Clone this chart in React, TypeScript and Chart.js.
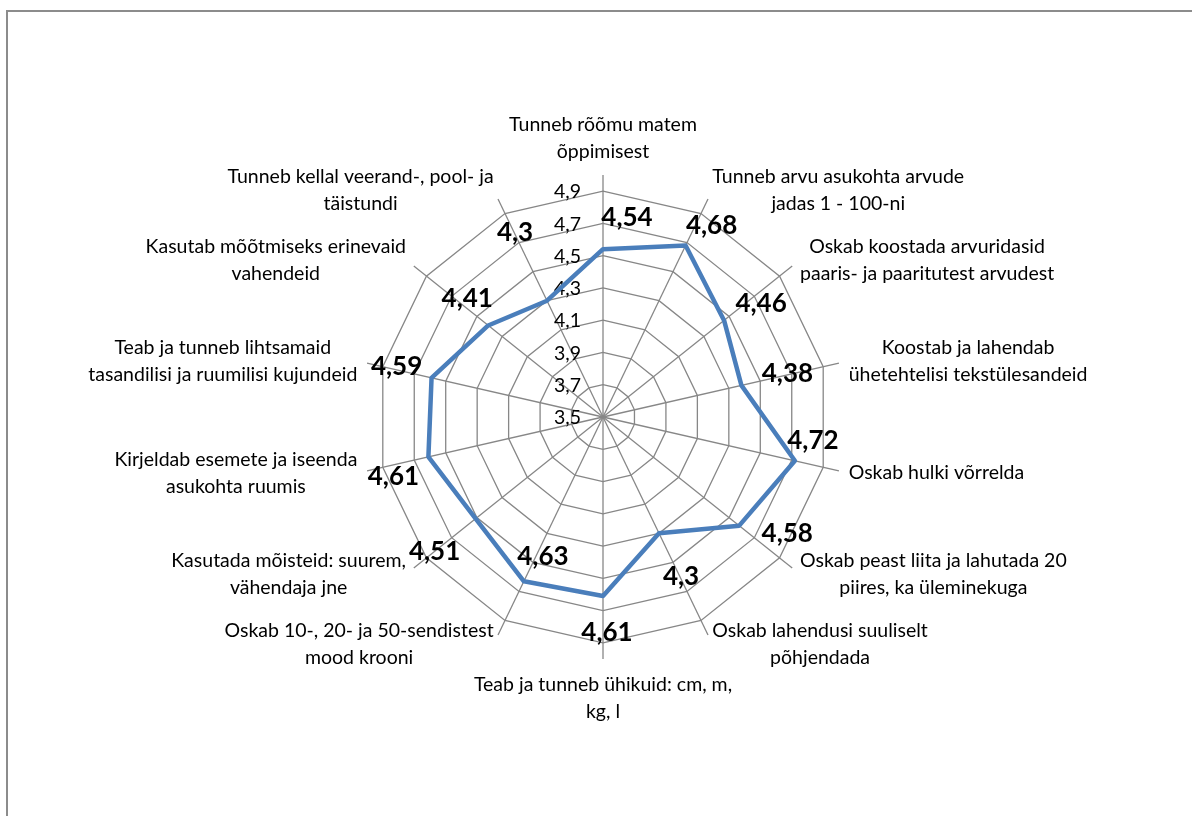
import React, { useEffect, useRef } from "react";
import { Chart, registerables } from "chart.js";

Chart.register(...registerables);

const categories: string[][] = [
  ["Tunneb rõõmu matem", "õppimisest"],
  ["Tunneb arvu asukohta arvude", "jadas 1 - 100-ni"],
  ["Oskab koostada arvuridasid", "paaris- ja paaritutest arvudest"],
  ["Koostab ja lahendab", "ühetehtelisi tekstülesandeid"],
  ["Oskab hulki võrrelda"],
  ["Oskab peast liita ja lahutada 20", "piires, ka üleminekuga"],
  ["Oskab lahendusi suuliselt", "põhjendada"],
  ["Teab ja tunneb ühikuid: cm, m,", "kg, l"],
  ["Oskab 10-, 20- ja 50-sendistest", "mood krooni"],
  ["Kasutada mõisteid: suurem,", "vähendaja jne"],
  ["Kirjeldab esemete ja iseenda", "asukohta ruumis"],
  ["Teab ja tunneb lihtsamaid", "tasandilisi ja ruumilisi kujundeid"],
  ["Kasutab mõõtmiseks erinevaid", "vahendeid"],
  ["Tunneb kellal veerand-, pool- ja", "täistundi"],
];

const values: number[] = [4.54, 4.68, 4.46, 4.38, 4.72, 4.58, 4.3, 4.61, 4.63, 4.51, 4.61, 4.59, 4.41, 4.3];

const tickValues: number[] = [3.5, 3.7, 3.9, 4.1, 4.3, 4.5, 4.7, 4.9];

// data label offsets (px) relative to each point — styling only
const labelOffsets: [number, number][] = [
  [24, -32], [26, -20], [37, -17], [46, -12], [18, -20], [48, 8], [22, 43],
  [4, 37], [19, -25], [-41, 33], [-35, 20], [-35, -11], [-21, -27], [-32, -68],
];

const FONT = "Lato, 'Open Sans', sans-serif";
const fmt = (v: number) => String(v).replace(".", ",");

const overlay = {
  id: "overlay",
  beforeDatasetsDraw(chart: any) {
    const s = chart.scales.r;
    const ctx = chart.ctx;
    ctx.save();
    ctx.font = `19.5px ${FONT}`;
    ctx.fillStyle = "#000";
    ctx.textAlign = "right";
    ctx.textBaseline = "middle";
    tickValues.forEach((v) => {
      const d = s.getDistanceFromCenterForValue(v);
      ctx.fillText(fmt(v), s.xCenter - 22, s.yCenter - d + 1);
    });
    ctx.restore();
  },
  afterDatasetsDraw(chart: any) {
    const s = chart.scales.r;
    const ctx = chart.ctx;
    ctx.save();
    ctx.fillStyle = "#000";
    ctx.font = `19.5px ${FONT}`;
    ctx.textAlign = "center";
    ctx.textBaseline = "middle";
    const n = categories.length;
    const lineH = 27;
    categories.forEach((lines, i) => {
      const p = s.getPointPosition(i, s.drawingArea + 10);
      const ang = (i * 360) / n;
      const w = Math.max(...lines.map((l) => ctx.measureText(l).width));
      const h = lines.length * lineH;
      let left: number, top: number;
      if (Math.abs(ang) < 1) {
        left = p.x - w / 2;
        top = p.y - h;
      } else if (Math.abs(ang - 180) < 1) {
        left = p.x - w / 2;
        top = p.y + 2;
      } else if (ang < 180) {
        left = p.x;
        top = p.y - h / 2;
      } else {
        left = p.x - w;
        top = p.y - h / 2;
      }
      lines.forEach((l, k) => ctx.fillText(l, left + w / 2, top + lineH * (k + 0.5)));
    });

    ctx.font = `bold 26px ${FONT}`;
    const meta = chart.getDatasetMeta(0);
    meta.data.forEach((pt: any, i: number) => {
      const [dx, dy] = labelOffsets[i];
      ctx.fillText(fmt(values[i]), pt.x + dx, pt.y + dy);
    });
    ctx.restore();
  },
};

export default function App() {
  const ref = useRef<HTMLCanvasElement | null>(null);
  useEffect(() => {
    if (!ref.current) return;
    const chart = new Chart(ref.current, {
      type: "radar",
      data: {
        labels: categories as any,
        datasets: [
          {
            data: values,
            borderColor: "#4A7EBB",
            borderWidth: 4.5,
            backgroundColor: "transparent",
            fill: false,
            pointRadius: 0,
            pointHoverRadius: 0,
            tension: 0,
            borderJoinStyle: "round",
          },
        ],
      },
      options: {
        animation: false,
        responsive: false,
        events: [],
        layout: { padding: { left: 361, top: 175, right: 347, bottom: 157 } },
        plugins: { legend: { display: false }, tooltip: { enabled: false } },
        scales: {
          r: {
            min: 3.5,
            max: 5.0,
            afterBuildTicks: (sc: any) => {
              sc.ticks = tickValues.map((v) => ({ value: v }));
            },
            ticks: { display: false },
            pointLabels: { display: false },
            grid: { color: "#878787", lineWidth: 1.3 },
            angleLines: { color: "#878787", lineWidth: 1.3 },
          },
        },
      },
      plugins: [overlay],
    });
    return () => chart.destroy();
  }, []);

  return (
    <div
      style={{
        position: "fixed",
        left: 0,
        top: 0,
        width: 1192,
        height: 816,
        overflow: "hidden",
        background: "#fff",
      }}
    >
      <div
        style={{
          position: "absolute",
          left: 6,
          top: 10,
          width: 1300,
          height: 900,
          borderLeft: "2px solid #8c8c8c",
          borderTop: "2px solid #8c8c8c",
        }}
      />
      <canvas
        ref={ref}
        width={1192}
        height={816}
        style={{ position: "absolute", left: 0, top: 0, width: 1192, height: 816 }}
      />
    </div>
  );
}
